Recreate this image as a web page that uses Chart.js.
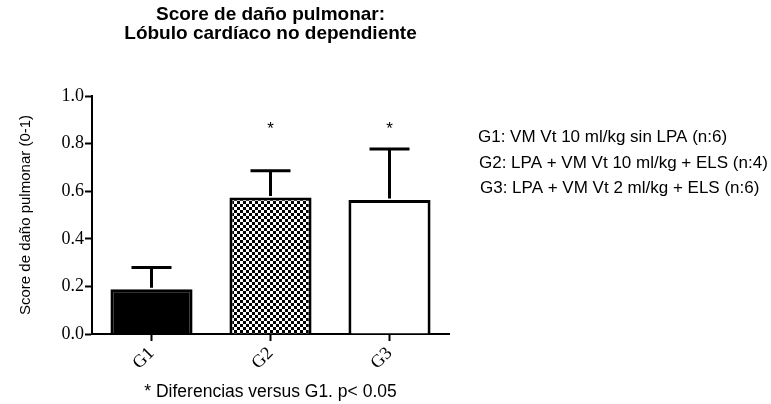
<!DOCTYPE html>
<html>
<head>
<meta charset="utf-8">
<script src="https://cdn.jsdelivr.net/npm/chart.js@4"></script>
<style>
  html, body { margin: 0; padding: 0; background: #fff; }
</style>
</head>
<body>
<canvas id="c" width="771" height="404"></canvas>
<script>
// data
var groups = ["G1", "G2", "G3"];
var means = [0.188, 0.574, 0.563];
var errUp = [0.091, 0.112, 0.214];
var stars = ["", "*", "*"];
var yTicks = [0, 0.2, 0.4, 0.6, 0.8, 1.0];
var titleLines = ["Score de daño pulmonar:", "Lóbulo cardíaco no dependiente"];
var legendLines = [
  "G1: VM Vt 10 ml/kg sin LPA (n:6)",
  "G2: LPA + VM Vt 10 ml/kg + ELS (n:4)",
  "G3: LPA + VM Vt 2 ml/kg + ELS (n:6)"
];
var footNote = "* Diferencias versus G1. p< 0.05";

var cv = document.getElementById("c");
var ctx = cv.getContext("2d");

// checkerboard fill for G2
var pc = document.createElement("canvas");
pc.width = 6; pc.height = 6;
var p = pc.getContext("2d");
p.fillStyle = "#fff"; p.fillRect(0, 0, 6, 6);
p.fillStyle = "#000"; p.fillRect(0, 0, 3, 3); p.fillRect(3, 3, 3, 3);
var checker = ctx.createPattern(pc, "repeat");

var sans = "'Liberation Sans', Arial, sans-serif";
var serif = "'Liberation Serif', 'Times New Roman', serif";

var extras = {
  id: "extras",
  afterDatasetsDraw: function (chart) {
    var c = chart.ctx, y = chart.scales.y;
    var meta = chart.getDatasetMeta(0);
    c.save();
    c.strokeStyle = "#000";
    c.lineWidth = 3;
    // upper error bars
    for (var i = 0; i < means.length; i++) {
      var bx = meta.data[i].x;
      var y0 = y.getPixelForValue(means[i]);
      var y1 = y.getPixelForValue(means[i] + errUp[i]);
      c.beginPath();
      c.moveTo(bx, y0 - 1.5); c.lineTo(bx, y1);
      c.moveTo(bx - 20, y1); c.lineTo(bx + 20, y1);
      c.stroke();
    }
    c.fillStyle = "#000";
    c.textAlign = "center";
    c.textBaseline = "alphabetic";
    c.font = "17px " + sans;
    for (var j = 0; j < stars.length; j++) {
      if (stars[j]) c.fillText(stars[j], meta.data[j].x, y.getPixelForValue(0.84));
    }
    // title
    var cx = (chart.chartArea.left + chart.chartArea.right) / 2;
    c.font = "bold 19px " + sans;
    c.fillText(titleLines[0], cx, 20);
    c.fillText(titleLines[1], cx, 38.5);
    // group legend
    c.textAlign = "left";
    c.font = "17px " + sans;
    for (var k = 0; k < legendLines.length; k++) {
      c.fillText(legendLines[k], 478 + k, 142 + k * 25.5);
    }
    c.restore();
  }
};

new Chart(cv, {
  type: "bar",
  data: {
    labels: groups,
    datasets: [{
      data: means,
      backgroundColor: ["#000", checker, "#fff"],
      borderColor: "#000",
      borderWidth: 3,
      categoryPercentage: 1,
      barPercentage: 0.69
    }]
  },
  options: {
    responsive: false,
    animation: false,
    layout: { padding: { top: 96, right: 322, left: 8, bottom: 1 } },
    plugins: {
      legend: { display: false },
      tooltip: { enabled: false }
    },
    scales: {
      x: {
        offset: true,
        afterFit: function (s) { s.height = 69; },
        grid: { display: true, offset: false, drawOnChartArea: false, tickLength: 7, tickWidth: 2, tickColor: "#000" },
        border: { color: "#000", width: 2 },
        ticks: { color: "#000", font: { family: serif, size: 18 }, minRotation: 45, maxRotation: 45, padding: 2 },
        title: { display: true, text: footNote, color: "#000", font: { family: sans, size: 17.5 }, padding: { top: 0, bottom: 0 } }
      },
      y: {
        min: 0, max: 1,
        afterFit: function (s) { s.width = 84; },
        afterBuildTicks: function (s) { s.ticks = yTicks.map(function (v) { return { value: v }; }); },
        grid: { display: true, drawOnChartArea: false, tickLength: 7, tickWidth: 2, tickColor: "#000" },
        border: { color: "#000", width: 2 },
        ticks: { color: "#000", font: { family: serif, size: 18 }, padding: 1,
          callback: function (v) { return Number(v).toFixed(1); } },
        title: { display: true, text: "Score de daño pulmonar (0-1)", color: "#000", font: { family: sans, size: 15 }, padding: { top: 9, bottom: 0 } }
      }
    }
  },
  plugins: [extras]
});
</script>
</body>
</html>
